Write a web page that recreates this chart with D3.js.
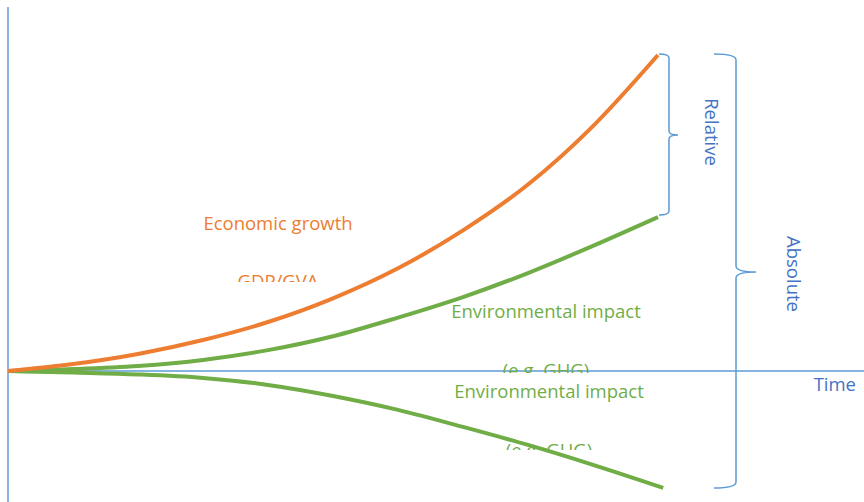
<!DOCTYPE html>
<html lang="en">
<head>
<meta charset="UTF-8">
<title>Decoupling</title>
<script src="https://d3js.org/d3.v7.min.js"></script>
<style>
  body { margin: 0; background: #fff; }
  text { font-family: "Open Sans", sans-serif; }
</style>
</head>
<body>
<svg width="864" height="502"></svg>
<script>
// time steps and series values (0 = baseline on the time axis)
const timeSteps = [0, 1, 2, 3, 4, 5, 6, 7, 8, 9, 10];
const economicGrowth = [0, 2.2, 5.4, 9.8, 15.5, 23, 32.5, 44.5, 59, 77.5, 100];
const impactRelative = [0, 0.6, 1.6, 3.5, 6.6, 11, 16.9, 23.4, 31, 39.6, 48.7];
const impactTimes = [0, 1, 2, 3, 4, 5, 6, 7, 8, 9, 10.08];
const impactAbsolute = [0, -0.5, -1.1, -2.2, -4.4, -7.9, -12.3, -17.7, -23.4, -29.7, -37];

const svg = d3.select("svg");

const x = d3.scaleLinear().domain([0, 10]).range([8, 658]);
const y = d3.scaleLinear().domain([0, 100]).range([371, 55]);

const orange = "#ED7D31", green = "#70AD47", blue = "#5B9BD5", textBlue = "#4472C4";
const fs = 18.5;

// axes
svg.append("line")
  .attr("x1", x(0)).attr("x2", x(0))
  .attr("y1", 7).attr("y2", 502)
  .attr("stroke", "#8DB4E2").attr("stroke-width", 2);
svg.append("line")
  .attr("x1", x(0)).attr("x2", 864)
  .attr("y1", y(0)).attr("y2", y(0))
  .attr("stroke", blue).attr("stroke-width", 1.5);

const line = d3.line()
  .x(d => x(d[0]))
  .y(d => y(d[1]))
  .curve(d3.curveMonotoneX);

svg.append("path")
  .datum(d3.zip(timeSteps, impactRelative))
  .attr("d", line).attr("fill", "none")
  .attr("stroke", green).attr("stroke-width", 4);
svg.append("path")
  .datum(d3.zip(impactTimes, impactAbsolute))
  .attr("d", line).attr("fill", "none")
  .attr("stroke", green).attr("stroke-width", 4);
svg.append("path")
  .datum(d3.zip(timeSteps, economicGrowth))
  .attr("d", line).attr("fill", "none")
  .attr("stroke", orange).attr("stroke-width", 4);

// braces
function brace(x0, w, tip, yTop, yBot, yMid, r) {
  const xv = x0 + w;
  return `M${x0},${yTop} Q${xv},${yTop} ${xv},${yTop + r}` +
    ` L${xv},${yMid - r} Q${xv},${yMid} ${xv + tip},${yMid}` +
    ` Q${xv},${yMid} ${xv},${yMid + r}` +
    ` L${xv},${yBot - r} Q${xv},${yBot} ${x0},${yBot}`;
}
const last = economicGrowth.length - 1;
svg.append("path")
  .attr("d", brace(x(10) + 1, 10, 9, y(economicGrowth[last]) - 1, y(impactRelative[last]) - 2, 135, 4))
  .attr("fill", "none").attr("stroke", blue).attr("stroke-width", 1.5);
svg.append("path")
  .attr("d", brace(714, 22, 20, y(economicGrowth[last]) - 1, y(impactAbsolute[last]), 272, 6))
  .attr("fill", "none").attr("stroke", blue).attr("stroke-width", 1.5);

// rotated brace labels
svg.append("text")
  .attr("transform", "translate(705,132) rotate(90)")
  .attr("text-anchor", "middle")
  .attr("font-size", fs).attr("fill", textBlue)
  .text("Relative");
svg.append("text")
  .attr("transform", "translate(787,274) rotate(90)")
  .attr("text-anchor", "middle")
  .attr("font-size", fs).attr("fill", textBlue)
  .text("Absolute");

svg.append("text")
  .attr("x", 856).attr("y", 391)
  .attr("text-anchor", "end")
  .attr("font-size", fs).attr("fill", textBlue)
  .text("Time");

// clip areas for the cut-off text boxes
const defs = svg.append("defs");
[["clipGdp", 282], ["clipGhg1", 373], ["clipGhg2", 450]].forEach(([id, bottom]) => {
  defs.append("clipPath").attr("id", id)
    .append("rect").attr("x", 0).attr("y", 0).attr("width", 864).attr("height", bottom);
});

function label(cx, cy, txt, color, clip) {
  const t = svg.append("text")
    .attr("x", cx).attr("y", cy)
    .attr("text-anchor", "middle")
    .attr("font-size", fs).attr("fill", color)
    .text(txt);
  if (clip) t.attr("clip-path", `url(#${clip})`);
}
label(278, 230, "Economic growth", orange);
label(278, 288, "GDP/GVA", orange, "clipGdp");
label(546, 318, "Environmental impact", green);
label(546, 377, "(e.g. GHG)", green, "clipGhg1");
label(549, 398, "Environmental impact", green);
label(549, 457, "(e.g. GHG)", green, "clipGhg2");
</script>
</body>
</html>
